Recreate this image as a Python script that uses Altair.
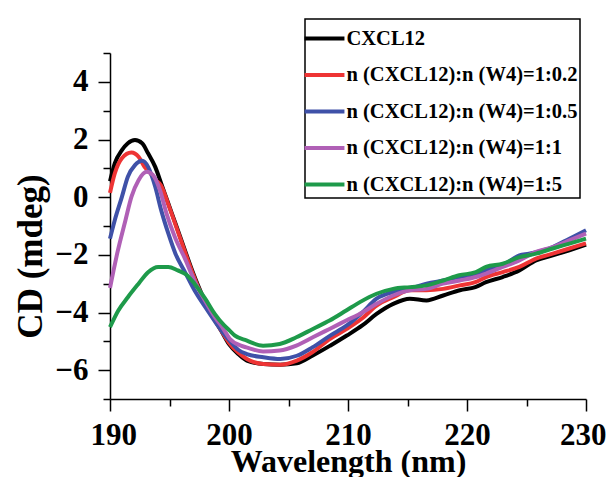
import altair as alt
import pandas as pd

series_names = [
    "CXCL12",
    "n (CXCL12):n (W4)=1:0.2",
    "n (CXCL12):n (W4)=1:0.5",
    "n (CXCL12):n (W4)=1:1",
    "n (CXCL12):n (W4)=1:5",
]
series_colors = ["#000000", "#ee3434", "#3f51a8", "#b060b6", "#1e9a4a"]

wl_black = [190, 190.4, 191, 191.5, 192.1, 192.7, 193.2, 193.8, 194.3, 194.9, 195.5, 196.3, 197, 197.7,
            198.5, 199.3, 200, 200.8, 201.5, 202.9, 204.3, 205.7, 207, 208.5, 209.9, 211.2, 212.4, 213.8,
            215.2, 216.6, 218, 219.4, 220.7, 221.6, 223, 224.4, 225.8, 227.2, 228.6, 230]
cd_black = [0.55, 1.17, 1.63, 1.87, 1.98, 1.87, 1.52, 1.05, 0.48, -0.22, -0.91, -1.85, -2.65, -3.35,
            -4.0, -4.6, -5.1, -5.45, -5.67, -5.79, -5.81, -5.76, -5.5, -5.15, -4.8, -4.45, -4.05, -3.7,
            -3.52, -3.58, -3.41, -3.23, -3.12, -2.95, -2.77, -2.54, -2.19, -2.02, -1.84, -1.65]

wl_red = [190, 190.4, 191, 191.8, 192.4, 192.9, 193.4, 193.8, 194.3, 194.9, 195.5, 196.3, 197, 197.7,
          198.5, 199.3, 200, 200.8, 201.5, 202.9, 204.3, 205.7, 207, 208.5, 209.9, 211.2, 212.4, 213.8,
          215.2, 216.6, 218, 219.4, 220.7, 221.6, 223, 224.4, 225.8, 227.2, 228.6, 230]
cd_red = [0.15, 0.82, 1.35, 1.55, 1.40, 1.05, 0.83, 0.6, 0.4, -0.25, -0.95, -1.9, -2.7, -3.4,
          -4.05, -4.6, -5.05, -5.4, -5.61, -5.79, -5.81, -5.67, -5.38, -4.91, -4.57, -4.2, -3.76, -3.47,
          -3.23, -3.23, -3.18, -3.06, -2.95, -2.77, -2.6, -2.42, -2.13, -1.96, -1.78, -1.6]

wl_blue = [190, 190.4, 191, 191.5, 192.1, 192.7, 193.2, 193.8, 194.3, 194.9, 195.5, 196.3, 197.1, 198,
           198.8, 199.5, 200, 200.8, 201.5, 202.9, 204.3, 205.7, 207, 208.5, 209.9, 211.2, 212.4, 213.8,
           215.2, 216.6, 218, 219.4, 220.7, 221.6, 223, 224.4, 225.2, 227.2, 228.6, 230]
cd_blue = [-1.44, -0.8, 0.01, 0.71, 1.11, 1.26, 1.05, 0.36, -0.45, -1.26, -1.96, -2.6, -3.23, -3.81,
           -4.3, -4.7, -4.95, -5.3, -5.44, -5.55, -5.61, -5.5, -5.21, -4.8, -4.45, -4.0, -3.52, -3.29,
           -3.18, -3.0, -2.89, -2.77, -2.71, -2.54, -2.37, -2.02, -1.96, -1.73, -1.44, -1.15]

wl_purple = [190, 190.3, 190.6, 191.3, 191.8, 192.4, 193.1, 193.6, 194.2, 194.75, 195.45, 196.3, 197.1,
             198, 198.8, 199.5, 200.06, 201.0, 201.46, 202.86, 204.26, 205.66, 207.05, 208.45, 209.85,
             211.25, 212.4, 213.8, 215.2, 216.6, 218, 219.4, 220.75, 221.6, 223, 224.4, 225.8, 227.2,
             228.6, 230]
cd_purple = [-3.15, -2.54, -1.96, -0.8, 0.01, 0.59, 0.88, 0.77, 0.24, -0.57, -1.38, -2.13, -2.9,
             -3.6, -4.15, -4.55, -4.91, -5.15, -5.21, -5.35, -5.32, -5.15, -4.86, -4.57, -4.28,
             -3.99, -3.70, -3.41, -3.23, -3.18, -3.0, -2.89, -2.77, -2.65, -2.42, -2.19, -1.90, -1.73,
             -1.50, -1.26]

wl_green = [190, 190.7, 191.5, 192.4, 193.2, 194.05, 194.9, 195.7, 196.4, 197.1, 198, 198.8, 199.6,
            200.06, 200.5, 201.46, 202.86, 204.26, 205.66, 207.05, 208.45, 209.85, 211, 212.4, 213.8,
            215.2, 216.6, 218, 219.35, 220.75, 221.6, 223, 224.4, 225.8, 227.2, 228.6, 230]
cd_green = [-4.51, -3.93, -3.47, -3.0, -2.6, -2.42, -2.42, -2.54, -2.68, -3.0, -3.52, -4.05, -4.45,
            -4.63, -4.8, -4.97, -5.15, -5.09, -4.86, -4.57, -4.28, -3.93, -3.64, -3.35, -3.18,
            -3.12, -3.06, -2.89, -2.71, -2.60, -2.42, -2.31, -2.08, -1.96, -1.78, -1.61, -1.44]

x_major = [190, 200, 210, 220, 230]
x_minor = [195, 205, 215, 225]
y_major = [-6, -4, -2, 0, 2, 4]
y_minor = [-7, -5, -3, -1, 1, 3, 5]

all_wl = [wl_black, wl_red, wl_blue, wl_purple, wl_green]
all_cd = [cd_black, cd_red, cd_blue, cd_purple, cd_green]
rows = []
for name, wls, cds in zip(series_names, all_wl, all_cd):
    for w, c in zip(wls, cds):
        rows.append({"series": name, "wl": w, "cd": c})
df = pd.DataFrame(rows)

FONT = "Liberation Serif"
xscale = alt.Scale(domain=[190, 230], nice=False, zero=False)
yscale = alt.Scale(domain=[-7, 5], nice=False, zero=False)

lines = alt.Chart(df).mark_line(strokeWidth=4, interpolate="monotone").encode(
    x=alt.X("wl:Q", scale=xscale, axis=alt.Axis(
        orient="bottom", values=x_major, format="d", grid=False,
        labelFont=FONT, labelFontWeight="bold", labelFontSize=31, labelColor="black",
        labelBaseline="alphabetic", labelPadding=33, labelFlush=True, labelFlushOffset=20,
        labelOverlap=False,
        tickSize=12, tickWidth=1.5, tickColor="black", domainColor="black", domainWidth=1.5,
        title="Wavelength (nm)", titleFont=FONT, titleFontWeight="bold", titleFontSize=32,
        titleColor="black", titleBaseline="alphabetic", titleY=72)),
    y=alt.Y("cd:Q", scale=yscale, axis=alt.Axis(
        orient="left", values=y_major, format="d", grid=False,
        labelFont=FONT, labelFontWeight="bold", labelFontSize=31, labelColor="black",
        labelBaseline="middle", labelPadding=10, labelFlush=False, labelOverlap=False,
        tickSize=12, tickWidth=1.5, tickColor="black", domainColor="black", domainWidth=1.5,
        title="CD (mdeg)", titleFont=FONT, titleFontWeight="bold", titleFontSize=35,
        titleColor="black", titleBaseline="alphabetic", titleAngle=270, titleAlign="center",
        titleX=-69, titleY=203)),
    color=alt.Color("series:N", sort=series_names,
                    scale=alt.Scale(domain=series_names, range=series_colors),
                    legend=alt.Legend(
                        title=None, orient="none", legendX=195, legendY=-34,
                        symbolType="M-1.33,0H1.33", symbolSize=900, symbolStrokeWidth=4,
                        labelFont=FONT, labelFontWeight="bold", labelFontSize=20.5,
                        labelColor="black", labelOffset=5, labelLimit=400,
                        padding=2.5, rowPadding=8.5, strokeColor="black", fillColor="white")),
)

minor = alt.Chart(df).mark_line(strokeOpacity=0).encode(
    x=alt.X("wl:Q", scale=xscale, axis=alt.Axis(
        orient="bottom", values=x_minor, labels=False, domain=False, grid=False,
        tickSize=7, tickWidth=1.5, tickColor="black", title=None)),
    y=alt.Y("cd:Q", scale=yscale, axis=alt.Axis(
        orient="left", values=y_minor, labels=False, domain=False, grid=False,
        tickSize=7, tickWidth=1.5, tickColor="black", title=None)),
    detail="series:N",
)

chart = alt.layer(lines, minor).resolve_axis(x="independent", y="independent").properties(
    width=476, height=346,
    autosize=alt.AutoSizeParams(type="none"),
    padding={"left": 102, "top": 45, "right": 20, "bottom": 78},
).configure_view(stroke=None).configure_legend(strokeWidth=1.5)

chart.save("out.html", embed_options={"renderer": "svg", "actions": False})
